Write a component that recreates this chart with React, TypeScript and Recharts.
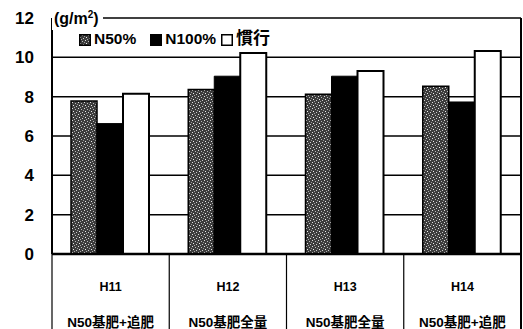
import React from 'react';
import { BarChart, Bar, XAxis, YAxis, CartesianGrid } from 'recharts';

const years = ['H11', 'H12', 'H13', 'H14'];
const methods = ['N50基肥+追肥', 'N50基肥全量', 'N50基肥全量', 'N50基肥+追肥'];
const n50 = [7.78, 8.37, 8.12, 8.53];
const n100 = [6.63, 9.04, 9.04, 7.73];
const kanko = [8.15, 10.22, 9.3, 10.32];
const yTicks = [0, 2, 4, 6, 8, 10, 12];

const data = years.map((y, i) => ({ year: y, method: methods[i], n50: n50[i], n100: n100[i], kanko: kanko[i] }));

const W = 523;
const H = 329;
const LEFT = 52;
const RIGHT = 2;
const TOP = 18;
const XH = 75;
const HALF = (W - LEFT - RIGHT) / years.length / 2;

const FONT = '"Liberation Sans", Arial, sans-serif';
const CJK = '"Liberation Sans", "Noto Sans CJK JP", sans-serif';

const XTick = (props: any) => {
  const { x, y, payload, index } = props;
  const d = data[index] || data.find((e) => e.year === payload.value);
  return (
    <g>
      <line x1={x - HALF} x2={x - HALF} y1={y} y2={y + XH} stroke="#000" strokeWidth={1.2} />
      {index === years.length - 1 && (
        <line x1={x + HALF} x2={x + HALF} y1={y} y2={y + XH} stroke="#000" strokeWidth={1.5} />
      )}
      <text x={x} y={y + 37} textAnchor="middle" fontFamily={FONT} fontWeight="bold" fontSize={12.5} fill="#000">
        {payload.value}
      </text>
      <text x={x} y={y + 73} textAnchor="middle" fontFamily={CJK} fontWeight="bold" fontSize={13.5} fill="#000">
        {d ? d.method : ''}
      </text>
    </g>
  );
};

const Swatch = ({ kind }: { kind: string }) => (
  <svg width={12} height={12} style={{ display: 'inline-block', verticalAlign: 'middle', marginRight: 3 }}>
    <rect x={0.75} y={0.75} width={10.5} height={10.5}
      fill={kind === 'n50' ? 'url(#stipple)' : kind === 'n100' ? '#000' : '#fff'}
      stroke="#000" strokeWidth={1.5} />
  </svg>
);

export default function App() {
  return (
    <div style={{ position: 'absolute', left: 0, top: 0, width: W, height: H, background: '#fff', overflow: 'hidden' }}>
      <svg width={0} height={0} style={{ position: 'absolute' }}>
        <defs>
          <pattern id="stipple" width={6} height={6} patternUnits="userSpaceOnUse">
            <rect width={6} height={6} fill="#3c3c3c" />
            <rect x={0} y={0} width={1} height={1} fill="#ddd" />
            <rect x={3} y={1} width={1} height={1} fill="#bbb" />
            <rect x={1} y={3} width={1} height={1} fill="#eee" />
            <rect x={4} y={4} width={1} height={1} fill="#ccc" />
            <rect x={5} y={2} width={1} height={1} fill="#999" />
            <rect x={2} y={5} width={1} height={1} fill="#aaa" />
          </pattern>
        </defs>
      </svg>
      <BarChart
        width={W}
        height={H}
        data={data}
        margin={{ top: TOP, right: RIGHT, left: 0, bottom: 0 }}
        barCategoryGap={19}
        barGap={0}
      >
        <CartesianGrid vertical={false} stroke="#000" strokeWidth={1.5} />
        <XAxis
          dataKey="year"
          height={XH}
          axisLine={{ stroke: '#000', strokeWidth: 2.5 }}
          tickLine={false}
          tickSize={0}
          tickMargin={0}
          tick={<XTick />}
          interval={0}
        />
        <YAxis
          width={LEFT}
          domain={[0, 12]}
          ticks={yTicks}
          interval={0}
          axisLine={{ stroke: '#000', strokeWidth: 2 }}
          tickLine={false}
          tickMargin={12}
          tick={{ fill: '#000', fontSize: 17, fontWeight: 'bold', fontFamily: FONT }}
        />
        <Bar dataKey="n50" fill="url(#stipple)" stroke="#000" strokeWidth={1.5} isAnimationActive={false} />
        <Bar dataKey="n100" fill="#000" stroke="#000" strokeWidth={1} isAnimationActive={false} />
        <Bar dataKey="kanko" fill="#fff" stroke="#000" strokeWidth={2} isAnimationActive={false} />
      </BarChart>
      <div style={{ position: 'absolute', left: W - RIGHT - 1, top: TOP, width: 1.5, height: H - TOP, background: '#000' }} />
      <div style={{ position: 'absolute', left: 52, top: 4, padding: '0 4px 0 2px', background: '#fff', fontFamily: FONT, fontWeight: 'bold', fontSize: 16, lineHeight: '22px', color: '#000' }}>
        (g/m<sup style={{ fontSize: 10 }}>2</sup>)
      </div>
      <div style={{ position: 'absolute', left: 79, top: 29, fontFamily: CJK, fontWeight: 'bold', fontSize: 15.5, lineHeight: '20px', color: '#000', whiteSpace: 'nowrap' }}>
        <Swatch kind="n50" />N50%
        <span style={{ marginLeft: 14 }}><Swatch kind="n100" />N100%</span>
        <span style={{ marginLeft: 5 }}><Swatch kind="kanko" /><span style={{ fontSize: 17 }}>慣行</span></span>
      </div>
    </div>
  );
}
